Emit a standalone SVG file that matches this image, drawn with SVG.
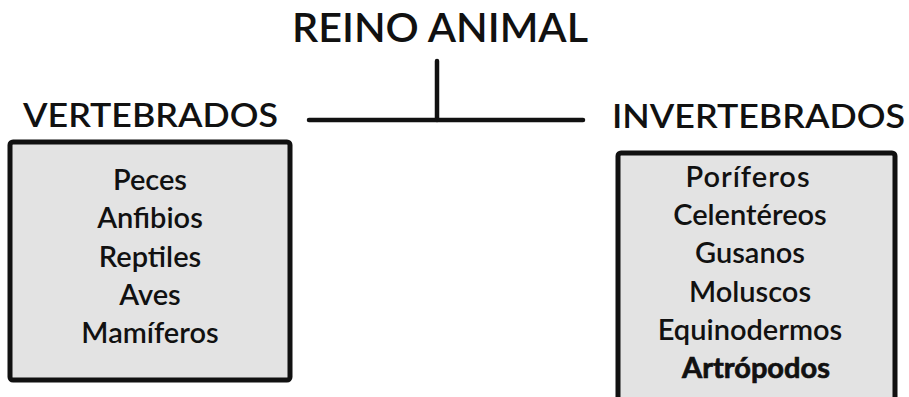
<svg xmlns="http://www.w3.org/2000/svg" width="909" height="397" viewBox="0 0 909 397">
  <style>
    .title { font-family: Lato, "Open Sans", "Liberation Sans", sans-serif; font-size: 40px; font-weight: 600; fill: #111; }
    .head { font-family: Lato, "Open Sans", "Liberation Sans", sans-serif; font-size: 33px; font-weight: 600; fill: #111; }
    .item { font-family: Lato, "Open Sans", "Liberation Sans", sans-serif; font-size: 29px; font-weight: 600; fill: #111; text-anchor: middle; }
    .strong { font-weight: 700; stroke: #111; stroke-width: 0.7; }
    .box { fill: #e3e3e3; stroke: #111; stroke-width: 5; }
    .link { stroke: #111; stroke-width: 4.5; fill: none; stroke-linecap: round; }
  </style>
  <rect width="909" height="397" fill="#ffffff"/>

  <g id="connectors">
    <line class="link" x1="437" y1="61" x2="437" y2="120"/>
    <line class="link" x1="309" y1="120" x2="583" y2="120"/>
  </g>

  <g id="reino-animal">
    <text class="title" x="292" y="42" textLength="296" lengthAdjust="spacingAndGlyphs">REINO ANIMAL</text>
  </g>

  <g id="vertebrados">
    <text class="head" x="23" y="127" textLength="255" lengthAdjust="spacingAndGlyphs">VERTEBRADOS</text>
    <rect class="box" x="10" y="142" width="280" height="238" rx="3"/>
    <text class="item" x="150" y="190">Peces</text>
    <text class="item" x="150" y="228">Anfibios</text>
    <text class="item" x="150" y="267">Reptiles</text>
    <text class="item" x="150" y="305">Aves</text>
    <text class="item" x="150" y="343">Mamíferos</text>
  </g>

  <g id="invertebrados">
    <text class="head" x="612" y="128" textLength="293" lengthAdjust="spacingAndGlyphs">INVERTEBRADOS</text>
    <rect class="box" x="618" y="153" width="277" height="260" rx="3"/>
    <text class="item" x="748" y="187" letter-spacing="1">Poríferos</text>
    <text class="item" x="750" y="225">Celentéreos</text>
    <text class="item" x="750" y="263">Gusanos</text>
    <text class="item" x="750" y="302">Moluscos</text>
    <text class="item" x="750" y="340">Equinodermos</text>
    <text class="item strong" x="756" y="378">Artrópodos</text>
  </g>
</svg>
